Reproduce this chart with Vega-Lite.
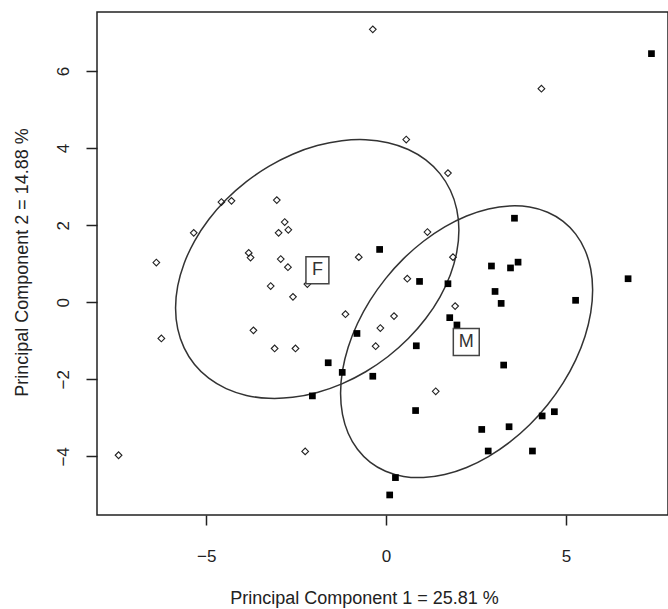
{
  "$schema": "https://vega.github.io/schema/vega-lite/v6.json",
  "autosize": {"type": "none"},
  "padding": {"left": 97, "top": 12, "right": 0, "bottom": 94},
  "width": 571,
  "height": 503,
  "background": "white",
  "config": {
    "view": {"stroke": "#222222", "strokeWidth": 1.5},
    "font": "Liberation Sans"
  },
  "datasets": {
    "pts": [
      {"pc1": -0.37, "pc2": 7.08, "sex": "F"},
      {"pc1": 4.32, "pc2": 5.54, "sex": "F"},
      {"pc1": 0.56, "pc2": 4.22, "sex": "F"},
      {"pc1": 1.72, "pc2": 3.35, "sex": "F"},
      {"pc1": -5.35, "pc2": 1.8, "sex": "F"},
      {"pc1": -4.58, "pc2": 2.6, "sex": "F"},
      {"pc1": -4.3, "pc2": 2.63, "sex": "F"},
      {"pc1": -3.04, "pc2": 2.65, "sex": "F"},
      {"pc1": -2.82, "pc2": 2.08, "sex": "F"},
      {"pc1": -2.72, "pc2": 1.88, "sex": "F"},
      {"pc1": -2.99, "pc2": 1.8, "sex": "F"},
      {"pc1": -3.82, "pc2": 1.28, "sex": "F"},
      {"pc1": -3.77, "pc2": 1.16, "sex": "F"},
      {"pc1": -2.93, "pc2": 1.12, "sex": "F"},
      {"pc1": -2.73, "pc2": 0.91, "sex": "F"},
      {"pc1": -3.21, "pc2": 0.42, "sex": "F"},
      {"pc1": -2.59, "pc2": 0.14, "sex": "F"},
      {"pc1": -2.19, "pc2": 0.47, "sex": "F"},
      {"pc1": -0.76, "pc2": 1.17, "sex": "F"},
      {"pc1": 1.15, "pc2": 1.82, "sex": "F"},
      {"pc1": 1.86, "pc2": 1.17, "sex": "F"},
      {"pc1": -6.39, "pc2": 1.03, "sex": "F"},
      {"pc1": 0.59, "pc2": 0.61, "sex": "F"},
      {"pc1": 1.92, "pc2": -0.1, "sex": "F"},
      {"pc1": -1.13, "pc2": -0.31, "sex": "F"},
      {"pc1": 0.22, "pc2": -0.36, "sex": "F"},
      {"pc1": -0.16, "pc2": -0.67, "sex": "F"},
      {"pc1": -0.29, "pc2": -1.14, "sex": "F"},
      {"pc1": -6.25, "pc2": -0.94, "sex": "F"},
      {"pc1": -3.69, "pc2": -0.73, "sex": "F"},
      {"pc1": -3.1, "pc2": -1.2, "sex": "F"},
      {"pc1": -2.52, "pc2": -1.2, "sex": "F"},
      {"pc1": 1.38, "pc2": -2.31, "sex": "F"},
      {"pc1": -2.25, "pc2": -3.87, "sex": "F"},
      {"pc1": -7.44, "pc2": -3.97, "sex": "F"},
      {"pc1": 7.38, "pc2": 6.45, "sex": "M"},
      {"pc1": 3.57, "pc2": 2.18, "sex": "M"},
      {"pc1": -0.18, "pc2": 1.37, "sex": "M"},
      {"pc1": 0.93, "pc2": 0.54, "sex": "M"},
      {"pc1": 1.72, "pc2": 0.48, "sex": "M"},
      {"pc1": 2.93, "pc2": 0.94, "sex": "M"},
      {"pc1": 3.46, "pc2": 0.89, "sex": "M"},
      {"pc1": 3.67, "pc2": 1.04, "sex": "M"},
      {"pc1": 3.03, "pc2": 0.28, "sex": "M"},
      {"pc1": 3.2, "pc2": -0.03, "sex": "M"},
      {"pc1": 5.27, "pc2": 0.05, "sex": "M"},
      {"pc1": 6.73, "pc2": 0.61, "sex": "M"},
      {"pc1": 1.77, "pc2": -0.4, "sex": "M"},
      {"pc1": 1.97, "pc2": -0.59, "sex": "M"},
      {"pc1": -0.81, "pc2": -0.81, "sex": "M"},
      {"pc1": 0.84, "pc2": -1.13, "sex": "M"},
      {"pc1": 3.27, "pc2": -1.63, "sex": "M"},
      {"pc1": -1.61, "pc2": -1.57, "sex": "M"},
      {"pc1": -1.22, "pc2": -1.82, "sex": "M"},
      {"pc1": -0.37, "pc2": -1.92, "sex": "M"},
      {"pc1": -2.05, "pc2": -2.43, "sex": "M"},
      {"pc1": 0.82, "pc2": -2.81, "sex": "M"},
      {"pc1": 2.66, "pc2": -3.3, "sex": "M"},
      {"pc1": 3.42, "pc2": -3.23, "sex": "M"},
      {"pc1": 4.34, "pc2": -2.95, "sex": "M"},
      {"pc1": 4.68, "pc2": -2.84, "sex": "M"},
      {"pc1": 4.07, "pc2": -3.86, "sex": "M"},
      {"pc1": 2.84, "pc2": -3.86, "sex": "M"},
      {"pc1": 0.26, "pc2": -4.55, "sex": "M"},
      {"pc1": 0.1, "pc2": -5.0, "sex": "M"}
    ],
    "ell": [
      {"g": "F", "t": 0, "pc1": 2.025, "pc2": 1.871},
      {"g": "F", "t": 10, "pc1": 1.965, "pc2": 1.299},
      {"g": "F", "t": 20, "pc1": 1.787, "pc2": 0.715},
      {"g": "F", "t": 30, "pc1": 1.497, "pc2": 0.134},
      {"g": "F", "t": 40, "pc1": 1.103, "pc2": -0.424},
      {"g": "F", "t": 50, "pc1": 0.618, "pc2": -0.943},
      {"g": "F", "t": 60, "pc1": 0.055, "pc2": -1.408},
      {"g": "F", "t": 70, "pc1": -0.568, "pc2": -1.803},
      {"g": "F", "t": 80, "pc1": -1.231, "pc2": -2.118},
      {"g": "F", "t": 90, "pc1": -1.915, "pc2": -2.342},
      {"g": "F", "t": 100, "pc1": -2.599, "pc2": -2.468},
      {"g": "F", "t": 110, "pc1": -3.262, "pc2": -2.494},
      {"g": "F", "t": 120, "pc1": -3.885, "pc2": -2.417},
      {"g": "F", "t": 130, "pc1": -4.448, "pc2": -2.241},
      {"g": "F", "t": 140, "pc1": -4.933, "pc2": -1.971},
      {"g": "F", "t": 150, "pc1": -5.327, "pc2": -1.615},
      {"g": "F", "t": 160, "pc1": -5.617, "pc2": -1.183},
      {"g": "F", "t": 170, "pc1": -5.795, "pc2": -0.689},
      {"g": "F", "t": 180, "pc1": -5.855, "pc2": -0.149},
      {"g": "F", "t": 190, "pc1": -5.795, "pc2": 0.423},
      {"g": "F", "t": 200, "pc1": -5.617, "pc2": 1.007},
      {"g": "F", "t": 210, "pc1": -5.327, "pc2": 1.588},
      {"g": "F", "t": 220, "pc1": -4.933, "pc2": 2.146},
      {"g": "F", "t": 230, "pc1": -4.448, "pc2": 2.665},
      {"g": "F", "t": 240, "pc1": -3.885, "pc2": 3.13},
      {"g": "F", "t": 250, "pc1": -3.262, "pc2": 3.525},
      {"g": "F", "t": 260, "pc1": -2.599, "pc2": 3.84},
      {"g": "F", "t": 270, "pc1": -1.915, "pc2": 4.064},
      {"g": "F", "t": 280, "pc1": -1.231, "pc2": 4.19},
      {"g": "F", "t": 290, "pc1": -0.568, "pc2": 4.216},
      {"g": "F", "t": 300, "pc1": 0.055, "pc2": 4.139},
      {"g": "F", "t": 310, "pc1": 0.618, "pc2": 3.963},
      {"g": "F", "t": 320, "pc1": 1.103, "pc2": 3.693},
      {"g": "F", "t": 330, "pc1": 1.497, "pc2": 3.337},
      {"g": "F", "t": 340, "pc1": 1.787, "pc2": 2.905},
      {"g": "F", "t": 350, "pc1": 1.965, "pc2": 2.411},
      {"g": "M", "t": 0, "pc1": 5.744, "pc2": 0.316},
      {"g": "M", "t": 10, "pc1": 5.691, "pc2": -0.271},
      {"g": "M", "t": 20, "pc1": 5.533, "pc2": -0.881},
      {"g": "M", "t": 30, "pc1": 5.274, "pc2": -1.495},
      {"g": "M", "t": 40, "pc1": 4.924, "pc2": -2.094},
      {"g": "M", "t": 50, "pc1": 4.492, "pc2": -2.661},
      {"g": "M", "t": 60, "pc1": 3.992, "pc2": -3.179},
      {"g": "M", "t": 70, "pc1": 3.438, "pc2": -3.631},
      {"g": "M", "t": 80, "pc1": 2.847, "pc2": -4.003},
      {"g": "M", "t": 90, "pc1": 2.239, "pc2": -4.286},
      {"g": "M", "t": 100, "pc1": 1.631, "pc2": -4.469},
      {"g": "M", "t": 110, "pc1": 1.04, "pc2": -4.547},
      {"g": "M", "t": 120, "pc1": 0.486, "pc2": -4.519},
      {"g": "M", "t": 130, "pc1": -0.014, "pc2": -4.384},
      {"g": "M", "t": 140, "pc1": -0.446, "pc2": -4.147},
      {"g": "M", "t": 150, "pc1": -0.796, "pc2": -3.815},
      {"g": "M", "t": 160, "pc1": -1.055, "pc2": -3.398},
      {"g": "M", "t": 170, "pc1": -1.213, "pc2": -2.91},
      {"g": "M", "t": 180, "pc1": -1.266, "pc2": -2.364},
      {"g": "M", "t": 190, "pc1": -1.213, "pc2": -1.777},
      {"g": "M", "t": 200, "pc1": -1.055, "pc2": -1.168},
      {"g": "M", "t": 210, "pc1": -0.796, "pc2": -0.553},
      {"g": "M", "t": 220, "pc1": -0.446, "pc2": 0.046},
      {"g": "M", "t": 230, "pc1": -0.014, "pc2": 0.613},
      {"g": "M", "t": 240, "pc1": 0.486, "pc2": 1.131},
      {"g": "M", "t": 250, "pc1": 1.04, "pc2": 1.583},
      {"g": "M", "t": 260, "pc1": 1.631, "pc2": 1.955},
      {"g": "M", "t": 270, "pc1": 2.239, "pc2": 2.238},
      {"g": "M", "t": 280, "pc1": 2.847, "pc2": 2.421},
      {"g": "M", "t": 290, "pc1": 3.438, "pc2": 2.499},
      {"g": "M", "t": 300, "pc1": 3.992, "pc2": 2.471},
      {"g": "M", "t": 310, "pc1": 4.492, "pc2": 2.336},
      {"g": "M", "t": 320, "pc1": 4.924, "pc2": 2.099},
      {"g": "M", "t": 330, "pc1": 5.274, "pc2": 1.767},
      {"g": "M", "t": 340, "pc1": 5.533, "pc2": 1.35},
      {"g": "M", "t": 350, "pc1": 5.691, "pc2": 0.862}
    ],
    "lab": [
      {"label": "F", "pc1": -1.91, "pc2": 0.83},
      {"label": "M", "pc1": 2.23, "pc2": -1.03}
    ]
  },
  "encoding": {
    "x": {
      "field": "pc1",
      "type": "quantitative",
      "scale": {"domain": [-8.04, 7.84], "nice": false, "zero": false},
      "axis": {
        "title": "Principal Component 1 = 25.81  %",
        "values": [-5, 0, 5],
        "grid": false,
        "domain": false,
        "tickColor": "#222222",
        "tickSize": 10,
        "tickWidth": 1.5,
        "labelFont": "Liberation Sans",
        "labelFontSize": 17,
        "labelColor": "#222222",
        "labelBaseline": "alphabetic",
        "labelPadding": 36,
        "titleFont": "Liberation Sans",
        "titleFontSize": 18,
        "titleFontWeight": "normal",
        "titleColor": "#222222",
        "titleBaseline": "alphabetic",
        "titleAnchor": "middle",
        "titleX": 267,
        "titleY": 88
      }
    },
    "y": {
      "field": "pc2",
      "type": "quantitative",
      "scale": {"domain": [-5.52, 7.53], "nice": false, "zero": false},
      "axis": {
        "title": "Principal Component 2 = 14.88  %",
        "values": [-4, -2, 0, 2, 4, 6],
        "grid": false,
        "domain": false,
        "tickColor": "#222222",
        "tickSize": 11,
        "tickWidth": 1.5,
        "labelFont": "Liberation Sans",
        "labelFontSize": 17,
        "labelColor": "#222222",
        "labelAngle": 270,
        "labelAlign": "center",
        "labelBaseline": "alphabetic",
        "labelPadding": 18,
        "titleFont": "Liberation Sans",
        "titleFontSize": 18,
        "titleFontWeight": "normal",
        "titleColor": "#222222",
        "titleBaseline": "alphabetic",
        "titleAngle": 270,
        "titleX": -70,
        "titleY": 250
      }
    }
  },
  "layer": [
    {
      "data": {"name": "ell"},
      "mark": {"type": "line", "interpolate": "cardinal-closed", "color": "#333333", "strokeWidth": 1.5},
      "encoding": {
        "detail": {"field": "g"},
        "order": {"field": "t", "type": "quantitative"}
      }
    },
    {
      "data": {"name": "pts"},
      "transform": [{"filter": "datum.sex === 'F'"}],
      "mark": {"type": "point", "shape": "diamond", "filled": false, "stroke": "#222222", "strokeWidth": 1.1, "size": 45, "opacity": 1}
    },
    {
      "data": {"name": "pts"},
      "transform": [{"filter": "datum.sex === 'M'"}],
      "mark": {"type": "point", "shape": "square", "filled": true, "color": "#000000", "size": 45, "opacity": 1}
    },
    {
      "data": {"name": "lab"},
      "mark": {"type": "point", "filled": true, "fill": "white", "stroke": "#444444", "strokeWidth": 1.5, "size": 729, "opacity": 1},
      "encoding": {
        "shape": {
          "field": "label",
          "type": "nominal",
          "scale": {"domain": ["F", "M"], "range": ["M-0.85,-1H0.85V1H-0.85Z", "M-0.96,-1H0.96V1H-0.96Z"]},
          "legend": null
        }
      }
    },
    {
      "data": {"name": "lab"},
      "mark": {"type": "text", "font": "Liberation Sans", "fontSize": 18, "color": "#333333", "align": "center", "baseline": "middle"},
      "encoding": {"text": {"field": "label"}}
    }
  ]
}
